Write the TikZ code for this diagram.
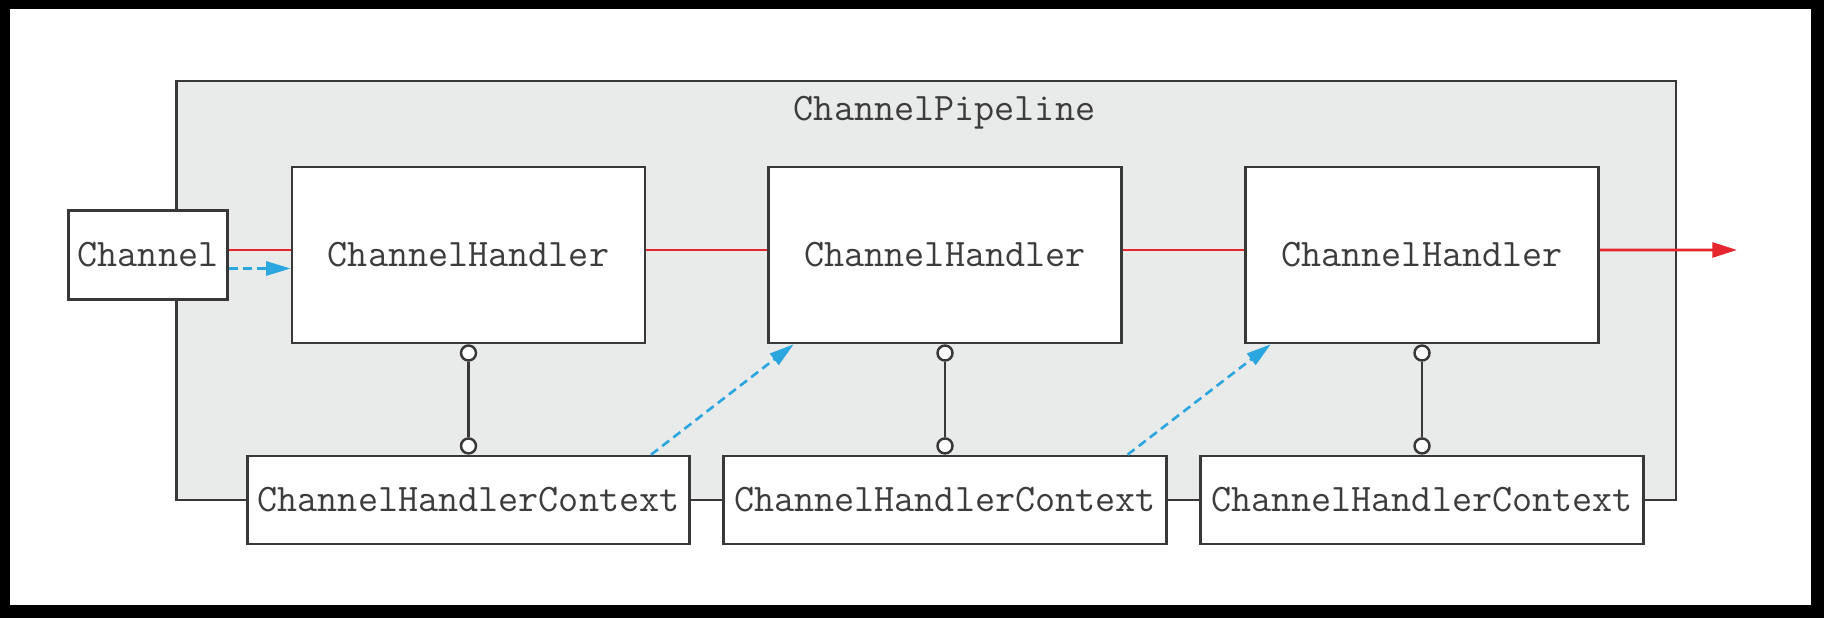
\documentclass[tikz,border=0pt]{standalone}
\usepackage{fontspec}
\usetikzlibrary{arrows.meta}
\definecolor{pipegray}{HTML}{E9EBEA}
\definecolor{wiregray}{HTML}{383838}
\definecolor{textgray}{HTML}{3C3C3C}
\definecolor{flowred}{HTML}{E6262E}
\definecolor{flowblue}{HTML}{2BA6DF}

\begin{document}
\begin{tikzpicture}[
        font=\ttfamily\fontsize{22.2}{25}\selectfont, text=textgray,
        box/.style={draw=wiregray, line width=1.5pt, fill=white, inner sep=0},
        chanbox/.style={box, minimum width=3.19cm, minimum height=1.77cm},
        handlerbox/.style={box, minimum width=7.06cm, minimum height=3.52cm},
        ctxbox/.style={box, minimum width=8.85cm, minimum height=1.76cm},
        linkdot/.style={circle, draw=wiregray, line width=1.4pt, fill=white, inner sep=0, minimum size=0.3cm},
        redflow/.style={draw=flowred, line width=1.6pt, -{Triangle[length=14pt, width=8.5pt]}},
        redwire/.style={draw=flowred, line width=1.6pt},
        blueflow/.style={draw=flowblue, line width=1.5pt, dash pattern=on 5pt off 3pt, -{Triangle[length=14pt, width=8pt]}}
    ]

        % Frame and pipeline:
        \fill[black] (0, 0) rectangle (36.48, 12.36);
        \fill[white] (0.2, 0.26) rectangle (36.22, 12.18);
        \useasboundingbox (0, 0) rectangle (36.48, 12.36);
        \draw[draw=wiregray, line width=1.5pt, fill=pipegray] (3.53, 2.36) rectangle (33.52, 10.74);
        \node (title) at (18.89, 10.10) {ChannelPipeline};

        % Nodes:
        \node[chanbox] (ch) at (2.96, 7.26) {Channel};
        \node[handlerbox] (h1) at (9.37, 7.26) {ChannelHandler};
        \node[handlerbox] (h2) at (18.90, 7.26) {ChannelHandler};
        \node[handlerbox] (h3) at (28.44, 7.26) {ChannelHandler};
        \node[ctxbox] (c1) at (9.37, 2.36) {ChannelHandlerContext};
        \node[ctxbox] (c2) at (18.90, 2.36) {ChannelHandlerContext};
        \node[ctxbox] (c3) at (28.44, 2.36) {ChannelHandlerContext};
        \coordinate (out) at (34.74, 7.36);

        % Handler to context links:
        \node[linkdot, anchor=north] (ht1) at (h1.south) {};
        \node[linkdot, anchor=south] (cb1) at (c1.north) {};
        \node[linkdot, anchor=north] (ht2) at (h2.south) {};
        \node[linkdot, anchor=south] (cb2) at (c2.north) {};
        \node[linkdot, anchor=north] (ht3) at (h3.south) {};
        \node[linkdot, anchor=south] (cb3) at (c3.north) {};
        \draw[wiregray, line width=1.4pt] (ht1) -- (cb1);
        \draw[wiregray, line width=1.4pt] (ht2) -- (cb2);
        \draw[wiregray, line width=1.4pt] (ht3) -- (cb3);

        % Event flow:
        \draw[redwire] ([yshift=1mm]ch.east) -- ([yshift=1mm]h1.west);
        \draw[redwire] ([yshift=1mm]h1.east) -- ([yshift=1mm]h2.west);
        \draw[redwire] ([yshift=1mm]h2.east) -- ([yshift=1mm]h3.west);
        \draw[redflow] ([yshift=1mm]h3.east) -- (out);
        \draw[blueflow] ([yshift=-2.7mm]ch.east) -- ([yshift=-2.7mm]h1.west);
        \draw[blueflow] ([xshift=-0.8cm]c1.north east) -- ([xshift=0.53cm]h2.south west);
        \draw[blueflow] ([xshift=-0.8cm]c2.north east) -- ([xshift=0.53cm]h3.south west);
    \end{tikzpicture}
\end{document}
